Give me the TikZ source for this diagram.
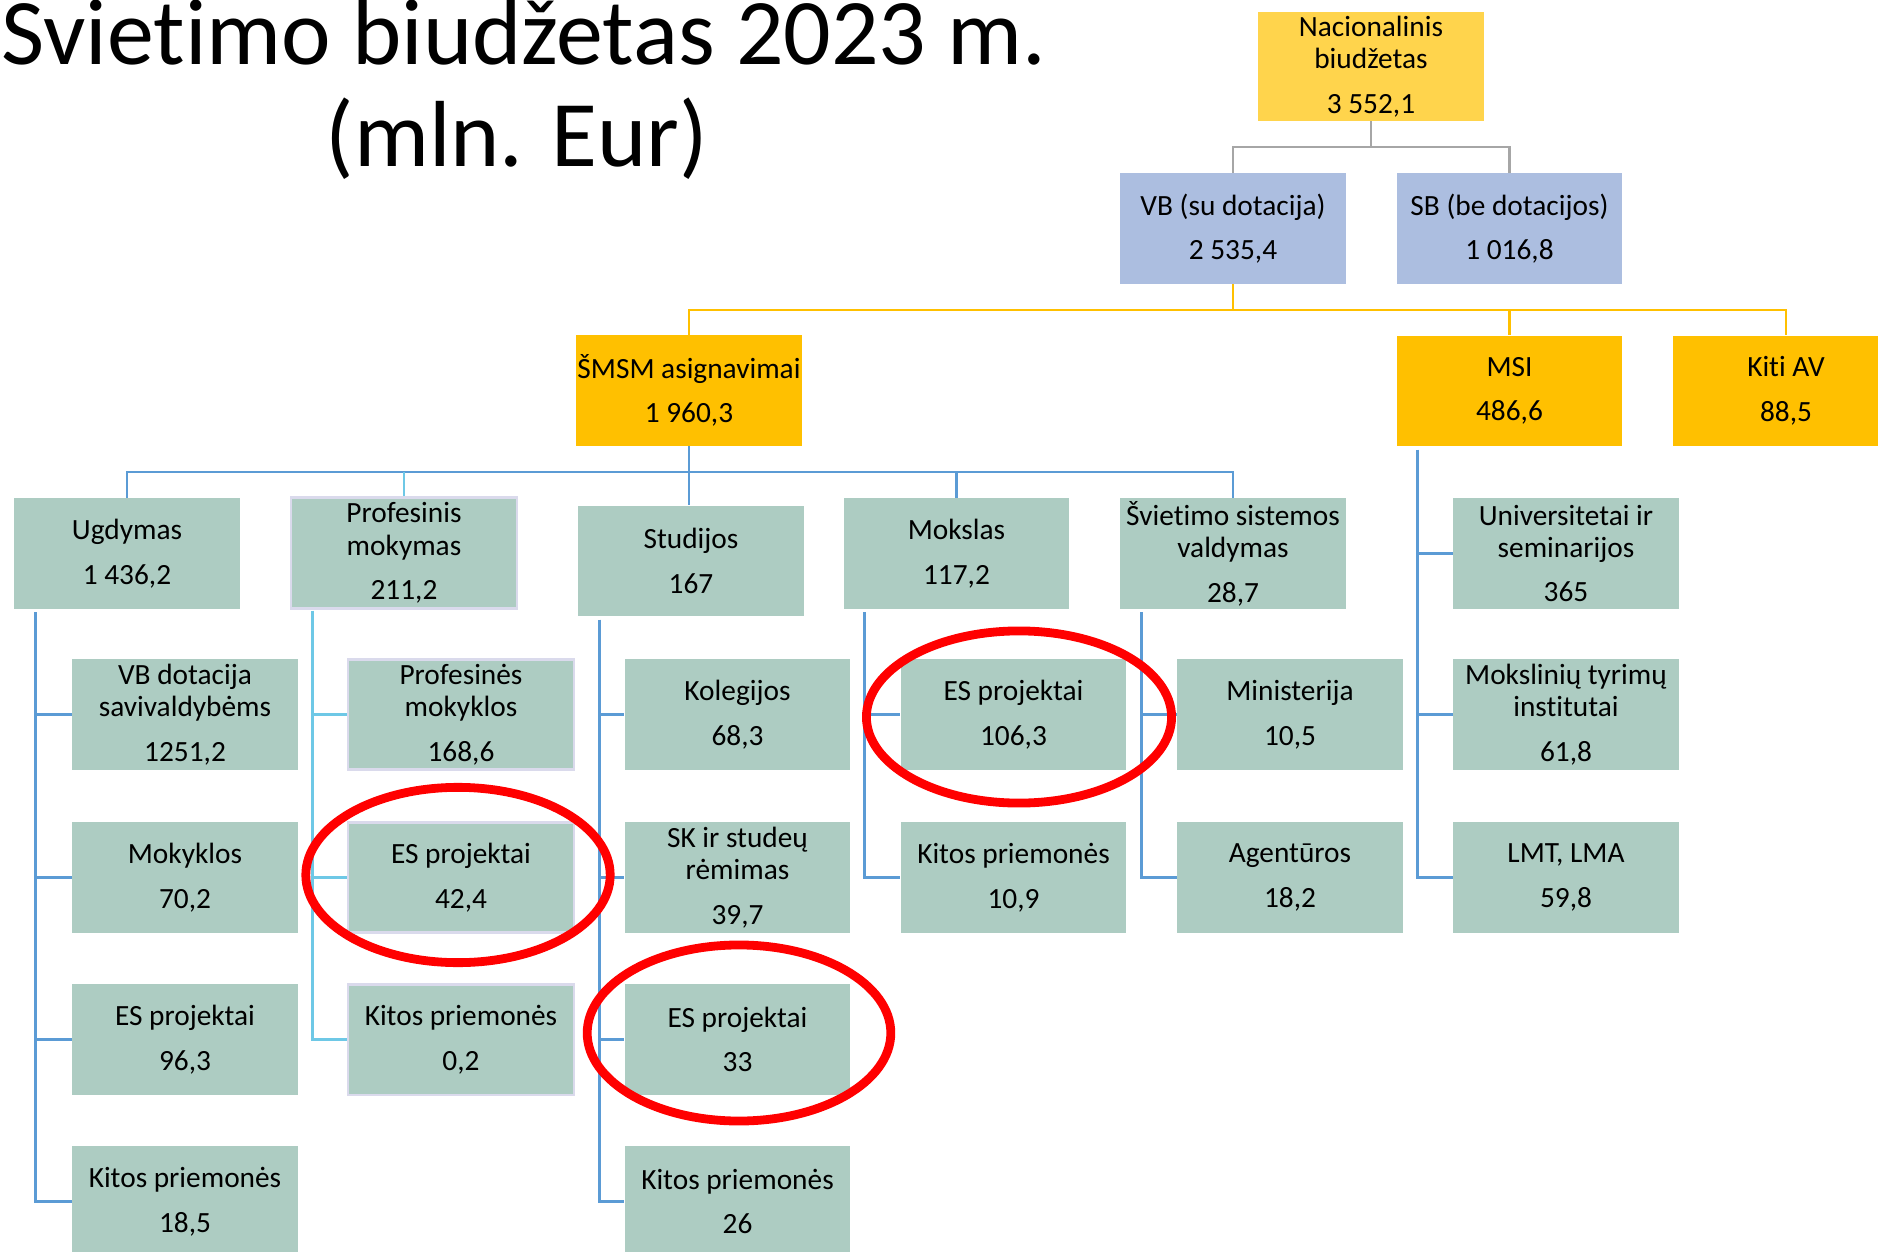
\documentclass[tikz,border=0pt]{standalone}
\usepackage{fontspec}
\setmainfont{Carlito}[Ligatures=NoCommon]
\usetikzlibrary{calc}
\definecolor{natY}{RGB}{255,212,76}
\definecolor{gold}{RGB}{255,192,0}
\definecolor{peri}{RGB}{172,190,224}
\definecolor{sage}{RGB}{173,204,194}
\definecolor{lav}{RGB}{218,218,236}
\definecolor{lnblue}{RGB}{91,155,213}
\definecolor{lncyan}{RGB}{110,200,230}
\definecolor{lngray}{RGB}{166,166,166}
\definecolor{ringred}{RGB}{255,0,0}
\tikzset{
  box/.style={minimum width=115.5pt, minimum height=56.7pt, inner sep=0pt, align=center,
    font=\fontsize{15}{16.5}\selectfont},
  natbox/.style={box, fill=natY, minimum height=55.7pt},
  goldbox/.style={box, fill=gold},
  perbox/.style={box, fill=peri},
  sagebox/.style={box, fill=sage},
  profbox/.style={sagebox, draw=lav, line width=1.5pt},
  gline/.style={draw=lngray, line width=1.4pt},
  yline/.style={draw=gold, line width=1.4pt},
  bline/.style={draw=lnblue, line width=1.4pt},
  cline/.style={draw=lncyan, line width=1.4pt},
  ringst/.style={draw=ringred, line width=4.5pt},
  titletext/.style={font=\fontsize{48}{52}\selectfont, anchor=base, inner sep=0pt},
}
\begin{document}
\begin{tikzpicture}[x=0.51118pt, y=-0.51118pt]
\useasboundingbox (0,0) rectangle (1878,1252);

% title
\node[titletext] (t1) at (524,65) {Švietimo biudžetas 2023 m.};
\node[titletext] (t2) at (517,167) {(mln. Eur)};

% top levels
\node[natbox] (nat) at (1371,66.5) {Nacionalinis\\biudžetas\\[6.3pt]3 552,1};
\node[perbox] (vb) at (1233,228.5) {VB (su dotacija)\\[6.3pt]2 535,4};
\node[perbox] (sb) at (1509.5,228.5) {SB (be dotacijos)\\[6.3pt]1 016,8};
\node[goldbox] (smsm) at (689,390.5) {ŠMSM asignavimai\\[6.3pt]1 960,3};
\node[goldbox] (msi) at (1509.5,391) {MSI\\[6.3pt]486,6};
\node[goldbox] (kiti) at (1786,391) {Kiti AV\\[6.3pt]88,5};

% level 3
\node[sagebox] (ugd) at (127,553.5) {Ugdymas\\[6.3pt]1 436,2};
\node[profbox] (prof) at (404,553) {Profesinis\\mokymas\\[6.3pt]211,2};
\node[sagebox] (stud) at (691,561) {Studijos\\[6.3pt]167};
\node[sagebox] (moks) at (956.5,553.5) {Mokslas\\[6.3pt]117,2};
\node[sagebox] (svs) at (1233,553.5) {Švietimo sistemos\\valdymas\\[6.3pt]28,7};
\node[sagebox] (univ) at (1566,553.5) {Universitetai ir\\seminarijos\\[6.3pt]365};

% Ugdymas children
\node[sagebox] (u1) at (185,714.5) {VB dotacija\\savivaldybėms\\[6.3pt]1251,2};
\node[sagebox] (u2) at (185,877.5) {Mokyklos\\[6.3pt]70,2};
\node[sagebox] (u3) at (185,1039.5) {ES projektai\\[6.3pt]96,3};
\node[sagebox] (u4) at (185,1201.5) {Kitos priemonės\\[6.3pt]18,5};

% Profesinis children
\node[profbox] (p1) at (461,714.5) {Profesinės\\mokyklos\\[6.3pt]168,6};
\node[profbox] (p2) at (461,877.5) {ES projektai\\[6.3pt]42,4};
\node[profbox] (p3) at (461,1039.5) {Kitos priemonės\\[6.3pt]0,2};

% Studijos children
\node[sagebox] (s1) at (737.5,714.5) {Kolegijos\\[6.3pt]68,3};
\node[sagebox] (s2) at (737.5,877.5) {SK ir studeų\\rėmimas\\[6.3pt]39,7};
\node[sagebox] (s3) at (737.5,1039.5) {ES projektai\\[6.3pt]33};
\node[sagebox] (s4) at (737.5,1201.5) {Kitos priemonės\\[6.3pt]26};

% Mokslas children
\node[sagebox] (m1) at (1013.5,714.5) {ES projektai\\[6.3pt]106,3};
\node[sagebox] (m2) at (1013.5,877.5) {Kitos priemonės\\[6.3pt]10,9};

% Svietimo sistemos children
\node[sagebox] (v1) at (1290,714.5) {Ministerija\\[6.3pt]10,5};
\node[sagebox] (v2) at (1290,877.5) {Agentūros\\[6.3pt]18,2};

% MSI children
\node[sagebox] (i2) at (1566,714.5) {Mokslinių tyrimų\\institutai\\[6.3pt]61,8};
\node[sagebox] (lmt) at (1566,877.5) {LMT, LMA\\[6.3pt]59,8};

% gray connectors
\coordinate (g0) at (1371,147);
\draw[gline] (nat.south) -- (g0);
\draw[gline] (vb.north) |- (g0) -| (sb.north);

% yellow connectors
\coordinate (y0) at (1233,310);
\draw[yline] (vb.south) -- (y0);
\draw[yline] (smsm.north) |- (y0) -| (kiti.north);
\draw[yline] (msi.north) -- (msi.north |- y0);

% blue level-3 bus
\coordinate (b0) at (689,472);
\draw[bline] (smsm.south) -- (smsm.south |- stud.north);
\draw[bline] (ugd.north) |- (b0) -| (svs.north);
\draw[bline] (moks.north) -- (moks.north |- b0);
\draw[cline] (prof.north) -- (prof.north |- b0);

% child buses
\coordinate (ub) at ($(ugd.south west)+(22,3)$);
\draw[bline] (ub) |- (u1.west);
\draw[bline] (ub) |- (u2.west);
\draw[bline] (ub) |- (u3.west);
\draw[bline] (ub) |- (u4.west);

\coordinate (pb) at ($(prof.south west)+(23,1)$);
\draw[cline] (pb) |- (p1.west);
\draw[cline] (pb) |- (p2.west);
\draw[cline] (pb) |- (p3.west);

\coordinate (sbus) at ($(stud.south west)+(22,3)$);
\draw[bline] (sbus) |- (s1.west);
\draw[bline] (sbus) |- (s2.west);
\draw[bline] (sbus) |- (s3.west);
\draw[bline] (sbus) |- (s4.west);

\coordinate (mbus) at ($(moks.south west)+(21,3)$);
\draw[bline] (mbus) |- (m1.west);
\draw[bline] (mbus) |- (m2.west);

\coordinate (vbus) at ($(svs.south west)+(22,3)$);
\draw[bline] (vbus) |- (v1.west);
\draw[bline] (vbus) |- (v2.west);

\coordinate (ibus) at ($(msi.south west)+(21,3)$);
\draw[bline] (ibus) |- (univ.west);
\draw[bline] (ibus) |- (i2.west);
\draw[bline] (ibus) |- (lmt.west);

% red rings
\draw[ringst] ($(p2.center)+(-3,-2.5)$) ellipse [x radius=77.8pt, y radius=44.8pt];
\draw[ringst] ($(s3.center)+(1.5,-6.5)$) ellipse [x radius=77.6pt, y radius=45pt];
\draw[ringst] ($(m1.center)+(5.5,2.5)$) ellipse [x radius=78pt, y radius=44pt];
\end{tikzpicture}
\end{document}
